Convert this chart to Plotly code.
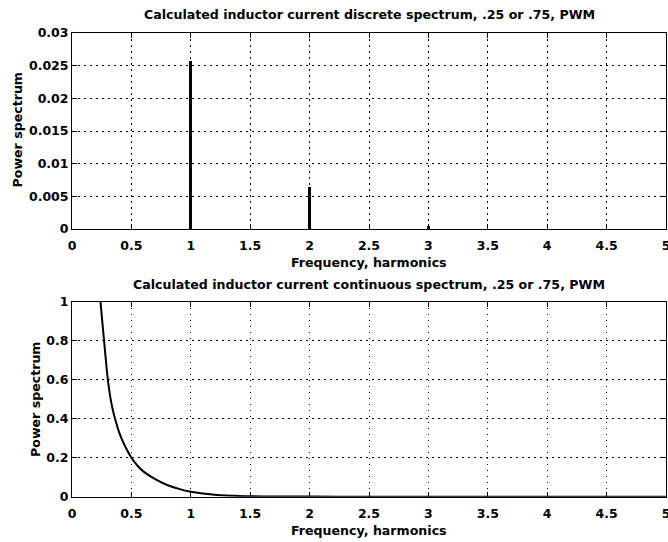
import plotly.graph_objects as go

# ---- data ----
harmonics = [1, 2, 3]
discrete_power = [0.0257, 0.0064, 0.0004]

freq = [0.24, 0.25, 0.27, 0.285, 0.30, 0.32, 0.34, 0.36, 0.40, 0.45, 0.50, 0.55, 0.60, 0.70,
        0.80, 0.90, 1.00, 1.10, 1.20, 1.30, 1.40, 1.50, 1.70, 2.00, 2.50, 3.00,
        4.00, 5.00]
cont_power = [1.00, 0.93, 0.80, 0.70, 0.61, 0.52, 0.455, 0.405, 0.325, 0.255, 0.20, 0.16, 0.13, 0.09,
              0.06, 0.04, 0.025, 0.016, 0.010, 0.006, 0.004, 0.002, 0.001, 0.0005, 0.0002, 0.0001,
              0.00003, 0.00001]

x_ticks = [0, 0.5, 1, 1.5, 2, 2.5, 3, 3.5, 4, 4.5, 5]
x_ticklabels = ["0", "0.5", "1", "1.5", "2", "2.5", "3", "3.5", "4", "4.5", "5"]
y1_ticks = [0, 0.005, 0.01, 0.015, 0.02, 0.025, 0.03]
y1_ticklabels = ["0", "0.005", "0.01", "0.015", "0.02", "0.025", "0.03"]
y2_ticks = [0, 0.2, 0.4, 0.6, 0.8, 1]
y2_ticklabels = ["0", "0.2", "0.4", "0.6", "0.8", "1"]

title_top = "Calculated inductor current discrete spectrum, .25 or .75, PWM"
title_bot = "Calculated inductor current continuous spectrum, .25 or .75, PWM"
xlabel = "Frequency, harmonics"
ylabel = "Power spectrum"

W, H = 668, 542
FONT = "DejaVu Sans"
TICKFONT = dict(family=FONT, size=12.5, color="black", weight="bold")
LABELFONT = dict(family=FONT, size=12.6, color="black", weight="bold")

fig = go.Figure()
fig.add_trace(go.Bar(x=harmonics, y=discrete_power, width=0.025,
                     marker=dict(color="black", line=dict(width=0)),
                     xaxis="x", yaxis="y", showlegend=False))
fig.add_trace(go.Scatter(x=freq, y=cont_power, mode="lines",
                         line=dict(color="black", width=2, shape="spline", smoothing=0.6),
                         xaxis="x2", yaxis="y2", showlegend=False, cliponaxis=True))

axis_common = dict(
    showline=True, linecolor="black", linewidth=1, mirror="ticks",
    ticks="inside", ticklen=5, tickcolor="black", tickwidth=1,
    showgrid=True, gridcolor="black", griddash="1.5px,4.5px", gridwidth=1,
    zeroline=False, automargin=False, ticklabeloverflow="allow",
    tickfont=TICKFONT,
)

XDOM = [72 / W, 666 / W]


def py(px):
    return 1 - px / H


def ann(text, x, y, angle=0):
    return dict(text=text, x=x / W, y=py(y), xref="paper", yref="paper",
                xanchor="center", yanchor="middle", showarrow=False,
                textangle=angle, font=LABELFONT)


fig.update_layout(
    width=W, height=H,
    margin=dict(l=0, r=0, t=0, b=0),
    paper_bgcolor="white", plot_bgcolor="white",
    font=dict(family=FONT, color="black"),
    bargap=0,
    xaxis=dict(domain=XDOM, range=[0, 5], tickvals=x_ticks, ticktext=x_ticklabels,
               anchor="y", ticklabelstandoff=5, **axis_common),
    yaxis=dict(domain=[py(229), py(33)], range=[0, 0.03], tickvals=y1_ticks,
               ticktext=y1_ticklabels, anchor="x", **axis_common),
    xaxis2=dict(domain=XDOM, range=[0, 5], tickvals=x_ticks, ticktext=x_ticklabels,
                anchor="y2", ticklabelstandoff=5, **axis_common),
    yaxis2=dict(domain=[py(496.7), py(301.7)], range=[0, 1], tickvals=y2_ticks,
                ticktext=y2_ticklabels, anchor="x2", **axis_common),
    annotations=[
        ann(title_top, 369, 14.5),
        ann(title_bot, 369, 284),
        ann(xlabel, 369, 262.5),
        ann(xlabel, 369, 530),
        ann(ylabel, 17.5, 130, -90),
        ann(ylabel, 35, 399, -90),
    ],
)

fig.write_html("out.html", config={"displayModeBar": False},
               post_script="document.body.style.margin='0px';")
